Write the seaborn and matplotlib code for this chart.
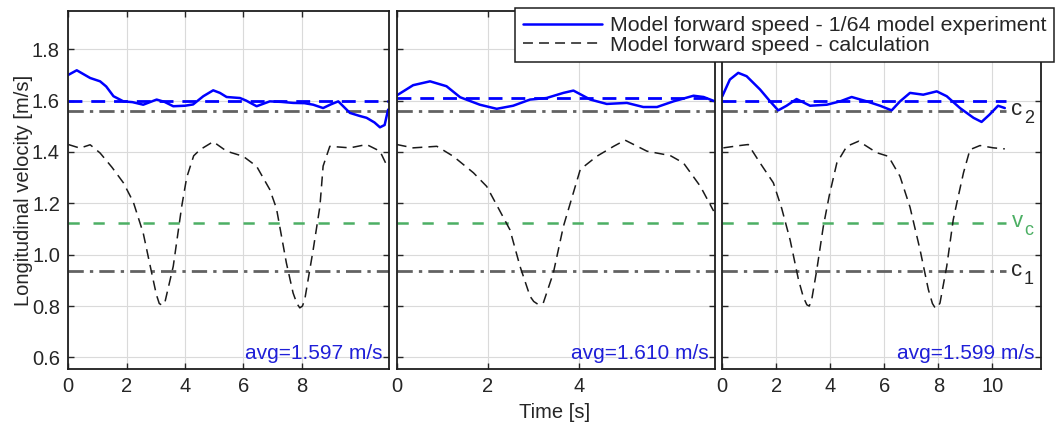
import numpy as np
import matplotlib
matplotlib.use("Agg")
import matplotlib.pyplot as plt
import seaborn as sns
from matplotlib.lines import Line2D

# ---------------- data ----------------
t1_exp = [0, 0.29, 0.75, 1.09, 1.3, 1.55, 1.89, 2.2, 2.57, 3.03, 3.3, 3.6, 4.0, 4.28, 4.63, 4.97,
          5.2, 5.43, 5.89, 6.1, 6.46, 6.91, 7.3, 7.71, 8.1, 8.4, 8.74, 9.0, 9.26, 9.66, 10.0,
          10.23, 10.5, 10.69, 10.85, 10.97]
v1_exp = [1.70, 1.718, 1.688, 1.675, 1.655, 1.617, 1.597, 1.594, 1.584, 1.604, 1.595, 1.578,
          1.58, 1.585, 1.617, 1.64, 1.63, 1.614, 1.61, 1.60, 1.578, 1.597, 1.595, 1.591, 1.59,
          1.584, 1.571, 1.585, 1.597, 1.552, 1.54, 1.533, 1.515, 1.496, 1.505, 1.565]
t1_calc = [0, 0.4, 0.75, 1.09, 1.5, 1.89, 2.23, 2.57, 2.86, 3.02, 3.12, 3.22, 3.32, 3.6, 3.89,
           4.06, 4.3, 4.52, 4.97, 5.43, 6.0, 6.46, 6.91, 7.14, 7.48, 7.71, 7.84, 7.94, 8.03,
           8.11, 8.4, 8.63, 8.74, 8.97, 9.66, 10.23, 10.69, 10.91]
v1_calc = [1.429, 1.415, 1.428, 1.396, 1.34, 1.28, 1.205, 1.084, 0.929, 0.845, 0.81, 0.803,
           0.818, 0.955, 1.188, 1.30, 1.385, 1.409, 1.44, 1.403, 1.383, 1.344, 1.254, 1.18,
           0.968, 0.851, 0.81, 0.793, 0.8, 0.825, 1.02, 1.188, 1.345, 1.422, 1.416, 1.429,
           1.403, 1.351]

t2_exp = [0, 0.36, 0.73, 1.09, 1.39, 1.82, 2.19, 2.55, 2.92, 3.28, 3.65, 3.87, 4.24, 4.6, 5.04,
          5.4, 5.7, 6.06, 6.5, 6.72, 6.97]
v2_exp = [1.62, 1.66, 1.675, 1.656, 1.613, 1.584, 1.568, 1.58, 1.604, 1.61, 1.63, 1.639, 1.604,
          1.587, 1.591, 1.575, 1.575, 1.597, 1.619, 1.614, 1.597]
t2_calc = [0, 0.36, 0.88, 1.24, 1.68, 1.97, 2.2, 2.48, 2.7, 2.92, 3.0, 3.1, 3.21, 3.43, 3.65,
           3.8, 4.02, 4.38, 4.75, 5.0, 5.48, 5.99, 6.28, 6.65, 6.94]
v2_calc = [1.429, 1.416, 1.422, 1.383, 1.319, 1.266, 1.19, 1.097, 0.955, 0.838, 0.818, 0.806,
           0.812, 0.929, 1.11, 1.2, 1.332, 1.383, 1.422, 1.446, 1.403, 1.386, 1.357, 1.266,
           1.17]

t3_exp = [0, 0.28, 0.59, 0.9, 1.4, 1.77, 2.07, 2.38, 2.75, 3.25, 3.87, 4.36, 4.79, 5.35, 5.84,
          6.27, 6.58, 6.95, 7.44, 7.94, 8.31, 8.8, 9.3, 9.6, 9.9, 10.21, 10.46]
v3_exp = [1.617, 1.682, 1.708, 1.695, 1.643, 1.597, 1.562, 1.58, 1.606, 1.58, 1.584, 1.597,
          1.614, 1.597, 1.58, 1.562, 1.597, 1.63, 1.623, 1.636, 1.617, 1.571, 1.533, 1.517,
          1.546, 1.58, 1.571]
t3_calc = [0.04, 0.65, 0.96, 1.4, 1.89, 2.2, 2.51, 2.82, 3.0, 3.13, 3.22, 3.31, 3.5, 3.74,
           3.96, 4.24, 4.61, 5.05, 5.72, 6.15, 6.58, 6.95, 7.32, 7.63, 7.78, 7.88, 7.97, 8.06,
           8.31, 8.55, 8.68, 8.93, 9.17, 9.54, 10.04, 10.46]
v3_calc = [1.416, 1.425, 1.429, 1.357, 1.28, 1.18, 1.058, 0.903, 0.835, 0.805, 0.8, 0.825,
           0.942, 1.11, 1.23, 1.357, 1.422, 1.442, 1.397, 1.383, 1.305, 1.185, 1.02, 0.864,
           0.81, 0.793, 0.795, 0.812, 0.955, 1.136, 1.2, 1.319, 1.409, 1.425, 1.416, 1.412]

avg_values = [1.597, 1.610, 1.599]
c2_value = 1.561
vc_value = 1.125
c1_value = 0.935

x_limits = [11.0, 6.97, 11.8]
x_ticks = [[0, 2, 4, 6, 8], [0, 2, 4], [0, 2, 4, 6, 8, 10]]
y_ticks = [0.6, 0.8, 1.0, 1.2, 1.4, 1.6, 1.8]
ref_labels = [("c", "2"), ("v", "c"), ("c", "1")]
legend_labels = ["Model forward speed - 1/64 model experiment",
                 "Model forward speed - calculation"]

# ---------------- style ----------------
sns.set_theme(style="ticks")
plt.rcParams["font.family"] = ["Liberation Sans", "DejaVu Sans"]

BLUE = "#0000ff"
GRAY = "#626262"
GREEN = "#4caf64"
TXT = "#262626"
FS = 15

fig = plt.figure(figsize=(10.56, 4.26), dpi=100)
W, H = 1056, 426
lefts = [68.3, 396.7, 722.3]
widths = [320.7, 318.3, 318.7]
bottom = 369.0
top = 10.7

series = [(t1_exp, v1_exp, t1_calc, v1_calc),
          (t2_exp, v2_exp, t2_calc, v2_calc),
          (t3_exp, v3_exp, t3_calc, v3_calc)]

axes = []
for i in range(3):
    ax = fig.add_axes([lefts[i] / W, 1 - bottom / H, widths[i] / W, (bottom - top) / H])
    axes.append(ax)
    te, ve, tc, vc_ = series[i]
    ax.set_xlim(0, x_limits[i])
    ax.set_ylim(0.555, 1.95)
    ax.grid(True, color="#dadada", lw=0.8)
    ax.set_axisbelow(True)

    # reference lines
    xmax = 1.0 if i < 2 else 10.5 / x_limits[i]
    l = ax.axhline(vc_value, xmax=xmax, color=GREEN, lw=1.8)
    l.set_dashes([4.5, 5.5])
    l = ax.axhline(c1_value, xmax=xmax, color=GRAY, lw=2.0)
    l.set_dashes([5.5, 2.2, 1.2, 2.2])
    l = ax.axhline(c2_value, xmax=xmax, color=GRAY, lw=2.0)
    l.set_dashes([5.5, 2.2, 1.2, 2.2])
    l = ax.axhline(avg_values[i], xmax=xmax, color=BLUE, lw=2.0)
    l.set_dashes([5.0, 3.2])

    sns.lineplot(x=tc, y=vc_, ax=ax, color="#1a1a1a", lw=1.1, sort=False)
    ax.lines[-1].set_dashes([6.5, 4.0])
    sns.lineplot(x=te, y=ve, ax=ax, color=BLUE, lw=1.8, sort=False)

    ax.set_xticks(x_ticks[i])
    ax.set_yticks(y_ticks)
    ax.tick_params(direction="in", top=True, right=True, length=4, width=1.0,
                   labelsize=14.5, colors=TXT, pad=6)
    if i == 0:
        ax.set_yticklabels([f"{v:.1f}" for v in y_ticks])
    else:
        ax.set_yticklabels([])
    for s in ax.spines.values():
        s.set_linewidth(1.3)
        s.set_color("#1e1e1e")
    ax.set_xlabel("")
    ax.set_ylabel("")
    ax.text(1 - 6.2 / widths[i], 0.028, f"avg={avg_values[i]:.3f} m/s", transform=ax.transAxes,
            ha="right", va="baseline", color="#1f1fd8", fontsize=FS)

ax3 = axes[2]
for (main, sub), yv, col in zip(ref_labels, [c2_value, vc_value, c1_value], [TXT, GREEN, TXT]):
    ax3.annotate(main, xy=(10.5, yv), xytext=(4, 1), textcoords="offset points",
                 color=col, fontsize=16, ha="left", va="center")
    ax3.annotate(sub, xy=(10.5, yv), xytext=(13, -6), textcoords="offset points",
                 color=col, fontsize=13, ha="left", va="center")

fig.text(24 / W, 1 - 190 / H, "Longitudinal velocity [m/s]", rotation=90, ha="center",
         va="center", fontsize=14.5, color=TXT)
fig.text(555 / W, 1 - 412 / H, "Time [s]", ha="center", va="center", fontsize=14.5, color=TXT)

handles = [Line2D([], [], color=BLUE, lw=1.8),
           Line2D([], [], color="#1a1a1a", lw=1.1, dashes=[6.5, 4.0])]
leg = fig.legend(handles, legend_labels, loc="upper right",
                 bbox_to_anchor=(1054 / W, 1 - 8.3 / H), bbox_transform=fig.transFigure,
                 prop={"size": 15.4}, frameon=True, fancybox=False, framealpha=1,
                 edgecolor="#1e1e1e", handlelength=3.7, handletextpad=0.35, borderpad=0.36,
                 labelspacing=0.03, borderaxespad=0)
leg.get_frame().set_linewidth(1.1)
for t in leg.get_texts():
    t.set_color(TXT)

fig.savefig("out.png", dpi=100)
